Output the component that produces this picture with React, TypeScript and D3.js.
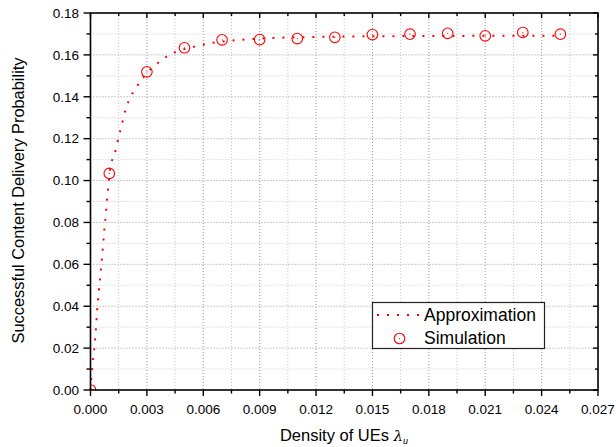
import { useEffect, useRef } from "react";
import * as d3 from "d3";

// simulation points
const simX = [0, 0.001, 0.003, 0.005, 0.007, 0.009, 0.011, 0.013, 0.015, 0.017, 0.019, 0.021, 0.023, 0.025];
const simY = [0, 0.1034, 0.1519, 0.1634, 0.1672, 0.1673, 0.1678, 0.1684, 0.1697, 0.1699, 0.1703, 0.1691, 0.1707, 0.1699];

// approximation curve
const approxX = [0, 0.00003, 0.00008, 0.00012, 0.00019, 0.00028, 0.00035, 0.00044, 0.00054, 0.00063, 0.00072, 0.00082, 0.00086, 0.00108, 0.00126, 0.00139, 0.00151, 0.00165, 0.00177, 0.00192, 0.00214, 0.00244, 0.00279, 0.0032, 0.00371, 0.0042, 0.0048, 0.0057, 0.0065, 0.0075, 0.0085, 0.0095, 0.011, 0.013, 0.015, 0.018, 0.021, 0.025];
const approxY = [0, 0.0048, 0.0095, 0.014, 0.0188, 0.0282, 0.0374, 0.047, 0.0562, 0.0652, 0.0748, 0.0843, 0.0886, 0.1074, 0.112, 0.1166, 0.1212, 0.1259, 0.1306, 0.1352, 0.14, 0.1445, 0.1491, 0.1532, 0.157, 0.16, 0.1622, 0.1643, 0.1658, 0.1668, 0.1675, 0.168, 0.1684, 0.1687, 0.1689, 0.169, 0.1691, 0.1692];

const xTicks = [0, 0.003, 0.006, 0.009, 0.012, 0.015, 0.018, 0.021, 0.024, 0.027];
const yTicks = [0, 0.02, 0.04, 0.06, 0.08, 0.1, 0.12, 0.14, 0.16, 0.18];

const legendItems = ["Approximation", "Simulation"];

const W = 616;
const H = 447;
const FONT = "Arial, 'Liberation Sans', Helvetica, sans-serif";

export default function App() {
  const ref = useRef<SVGSVGElement>(null);

  useEffect(() => {
    const svg = d3.select(ref.current);
    svg.selectAll("*").remove();

    const m = { left: 90.5, right: 598, top: 13, bottom: 390 };
    const x = d3.scaleLinear().domain([0, 0.027]).range([m.left, m.right]);
    const y = d3.scaleLinear().domain([0, 0.18]).range([m.bottom, m.top]);

    const xMinor = d3.range(0, 9).map((i) => 0.0015 + i * 0.003);
    const yMinor = d3.range(0, 9).map((i) => 0.01 + i * 0.02);

    svg.append("rect").attr("width", W).attr("height", H).attr("fill", "#fff");
    svg.append("clipPath").attr("id", "plot-clip")
      .append("rect")
      .attr("x", m.left).attr("y", m.top)
      .attr("width", m.right - m.left).attr("height", m.bottom - m.top);

    // grid
    const grid = svg.append("g");
    const gridLine = (vert: boolean, v: number, major: boolean) => {
      const l = grid.append("line")
        .attr("stroke", major ? "#9a9a9a" : "#c8c8c8")
        .attr("stroke-width", 1)
        .attr("stroke-dasharray", "1 2");
      if (vert) {
        l.attr("x1", x(v)).attr("x2", x(v)).attr("y1", m.top).attr("y2", m.bottom);
      } else {
        l.attr("x1", m.left).attr("x2", m.right).attr("y1", y(v)).attr("y2", y(v));
      }
    };
    xMinor.forEach((v) => gridLine(true, v, false));
    yMinor.forEach((v) => gridLine(false, v, false));
    xTicks.slice(1, -1).forEach((v) => gridLine(true, v, true));
    yTicks.slice(1, -1).forEach((v) => gridLine(false, v, true));

    // approximation curve
    const line = d3.line<number>()
      .x((_, i) => x(approxX[i]))
      .y((d) => y(d))
      .curve(d3.curveMonotoneX);
    svg.append("path")
      .attr("d", line(approxY))
      .attr("fill", "none")
      .attr("stroke", "#ff0000")
      .attr("stroke-width", 2)
      .attr("stroke-linecap", "butt")
      .attr("stroke-dasharray", "2 8");

    // simulation markers (clipped to the plot box)
    const sim = svg.append("g").attr("clip-path", "url(#plot-clip)");
    simX.forEach((v, i) => {
      sim.append("circle")
        .attr("cx", x(v)).attr("cy", y(simY[i])).attr("r", 5.3)
        .attr("fill", "none").attr("stroke", "#ff0000").attr("stroke-width", 1.1);
      sim.append("circle")
        .attr("cx", x(v)).attr("cy", y(simY[i])).attr("r", 0.6)
        .attr("fill", "#ff0000");
    });

    // frame
    svg.append("rect")
      .attr("x", m.left).attr("y", m.top)
      .attr("width", m.right - m.left).attr("height", m.bottom - m.top)
      .attr("fill", "none").attr("stroke", "#000").attr("stroke-width", 1.6);

    // ticks
    const ax = svg.append("g").attr("stroke", "#000").attr("stroke-width", 1.4);
    xTicks.forEach((v) => {
      ax.append("line").attr("x1", x(v)).attr("x2", x(v)).attr("y1", m.bottom).attr("y2", m.bottom + 6);
      ax.append("line").attr("x1", x(v)).attr("x2", x(v)).attr("y1", m.top).attr("y2", m.top + 5);
    });
    xMinor.forEach((v) => {
      ax.append("line").attr("x1", x(v)).attr("x2", x(v)).attr("y1", m.bottom).attr("y2", m.bottom + 3.5);
      ax.append("line").attr("x1", x(v)).attr("x2", x(v)).attr("y1", m.top).attr("y2", m.top + 3);
    });
    yTicks.forEach((v) => {
      ax.append("line").attr("x1", m.left - 7).attr("x2", m.left).attr("y1", y(v)).attr("y2", y(v));
      ax.append("line").attr("x1", m.right - 5).attr("x2", m.right).attr("y1", y(v)).attr("y2", y(v));
    });
    yMinor.forEach((v) => {
      ax.append("line").attr("x1", m.left - 4).attr("x2", m.left).attr("y1", y(v)).attr("y2", y(v));
      ax.append("line").attr("x1", m.right - 3).attr("x2", m.right).attr("y1", y(v)).attr("y2", y(v));
    });

    // tick labels
    svg.append("g").selectAll("text").data(xTicks).join("text")
      .attr("x", (d) => x(d)).attr("y", 413.5)
      .attr("text-anchor", "middle")
      .attr("font-family", FONT).attr("font-size", 13.5)
      .text((d) => d3.format(".3f")(d));
    svg.append("g").selectAll("text").data(yTicks).join("text")
      .attr("x", 79).attr("y", (d) => y(d) + 4.8)
      .attr("text-anchor", "end")
      .attr("font-family", FONT).attr("font-size", 13.5)
      .text((d) => d3.format(".2f")(d));

    // axis titles
    svg.append("text")
      .attr("transform", `translate(23.5, ${(m.top + m.bottom) / 2 - 1}) rotate(-90)`)
      .attr("text-anchor", "middle")
      .attr("font-family", FONT).attr("font-size", 16.4)
      .text("Successful Content Delivery Probability");
    const xt = svg.append("text")
      .attr("x", 344).attr("y", 440.5)
      .attr("text-anchor", "middle")
      .attr("font-family", FONT).attr("font-size", 16.5);
    xt.append("tspan").text("Density of UEs ");
    xt.append("tspan").attr("font-style", "italic").attr("font-family", "'DejaVu Serif', serif").attr("font-size", 15).text("λ");
    xt.append("tspan").attr("font-style", "italic").attr("font-size", 9).attr("dy", 3).text("u");

    // legend
    const lg = svg.append("g");
    lg.append("rect")
      .attr("x", 372.5).attr("y", 302.5).attr("width", 172).attr("height", 46)
      .attr("fill", "#fff").attr("stroke", "#222").attr("stroke-width", 1.2);
    lg.append("line")
      .attr("x1", 377).attr("x2", 421).attr("y1", 315).attr("y2", 315)
      .attr("stroke", "#ff0000").attr("stroke-width", 2).attr("stroke-dasharray", "2 8");
    lg.append("circle").attr("cx", 399.5).attr("cy", 338.5).attr("r", 5.3)
      .attr("fill", "none").attr("stroke", "#ff0000").attr("stroke-width", 1.1);
    lg.append("circle").attr("cx", 399.5).attr("cy", 338.5).attr("r", 0.6).attr("fill", "#ff0000");
    legendItems.forEach((t, i) => {
      lg.append("text")
        .attr("x", 424).attr("y", 320.5 + i * 23.5)
        .attr("font-family", FONT).attr("font-size", 17.5)
        .text(t);
    });
  }, []);

  return (
    <svg ref={ref} width={W} height={H} style={{ position: "absolute", left: 0, top: 0 }} />
  );
}
